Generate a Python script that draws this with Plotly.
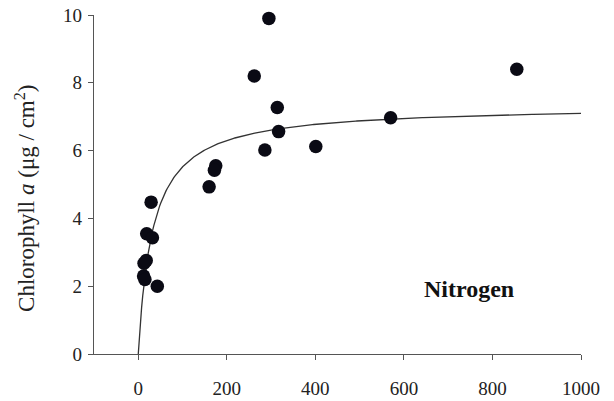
import plotly.graph_objects as go
import numpy as np

# Observed data (nitrogen vs chlorophyll a)
nitrogen = [295, 262, 314, 317, 286, 401, 175, 172, 160, 29, 19, 32, 13, 18, 12, 15, 43, 855, 570]
chlorophyll = [9.9, 8.2, 7.27, 6.56, 6.02, 6.12, 5.55, 5.42, 4.93, 4.48, 3.55, 3.43, 2.68, 2.76, 2.3, 2.2, 2.0, 8.4, 6.97]

# Saturating (Michaelis-Menten) fit parameters
vmax = 7.33
k_half = 32.8
fit_x = np.linspace(0, 1000, 400)
fit_y = vmax * fit_x / (k_half + fit_x)

x_ticks = [0, 200, 400, 600, 800, 1000]
y_ticks = [0, 2, 4, 6, 8, 10]

serif = "Liberation Serif, Times New Roman, serif"

fig = go.Figure()
fig.add_trace(go.Scatter(x=fit_x, y=fit_y, mode="lines",
                         line=dict(color="#333333", width=1.3), hoverinfo="skip"))
fig.add_trace(go.Scatter(x=nitrogen, y=chlorophyll, mode="markers", cliponaxis=False,
                         marker=dict(color="#0a0a14", size=13.5, line=dict(width=0))))

fig.update_layout(
    width=614, height=401,
    margin=dict(l=94, r=33, t=15, b=47),
    plot_bgcolor="white", paper_bgcolor="white",
    showlegend=False,
    font=dict(family=serif, size=19, color="#222222"),
    annotations=[
        dict(x=0.769, y=0.192, xref="paper", yref="paper", text="<b>Nitrogen</b>",
             xanchor="center", yanchor="middle",
             showarrow=False, font=dict(family=serif, size=24, color="#111111")),
        dict(x=-0.142, y=0.46, xref="paper", yref="paper",
             text="Chlorophyll <i>a</i> (μg / cm<sup>2</sup>)", textangle=-90,
             xanchor="center", yanchor="middle", showarrow=False,
             font=dict(family=serif, size=23, color="#222222")),
    ],
)
fig.update_xaxes(range=[-100, 1000], tickvals=x_ticks, showgrid=False, zeroline=False,
                 showline=True, linecolor="#555555", linewidth=1.3, automargin=False,
                 ticks="outside", ticklen=5, tickcolor="#555555", ticklabelstandoff=12)
fig.update_yaxes(range=[0, 10], tickvals=y_ticks, showgrid=False, zeroline=False,
                 showline=True, linecolor="#555555", linewidth=1.3, automargin=False,
                 ticks="outside", ticklen=5, tickcolor="#555555", ticklabelstandoff=2)

fig.write_html("out.html")
